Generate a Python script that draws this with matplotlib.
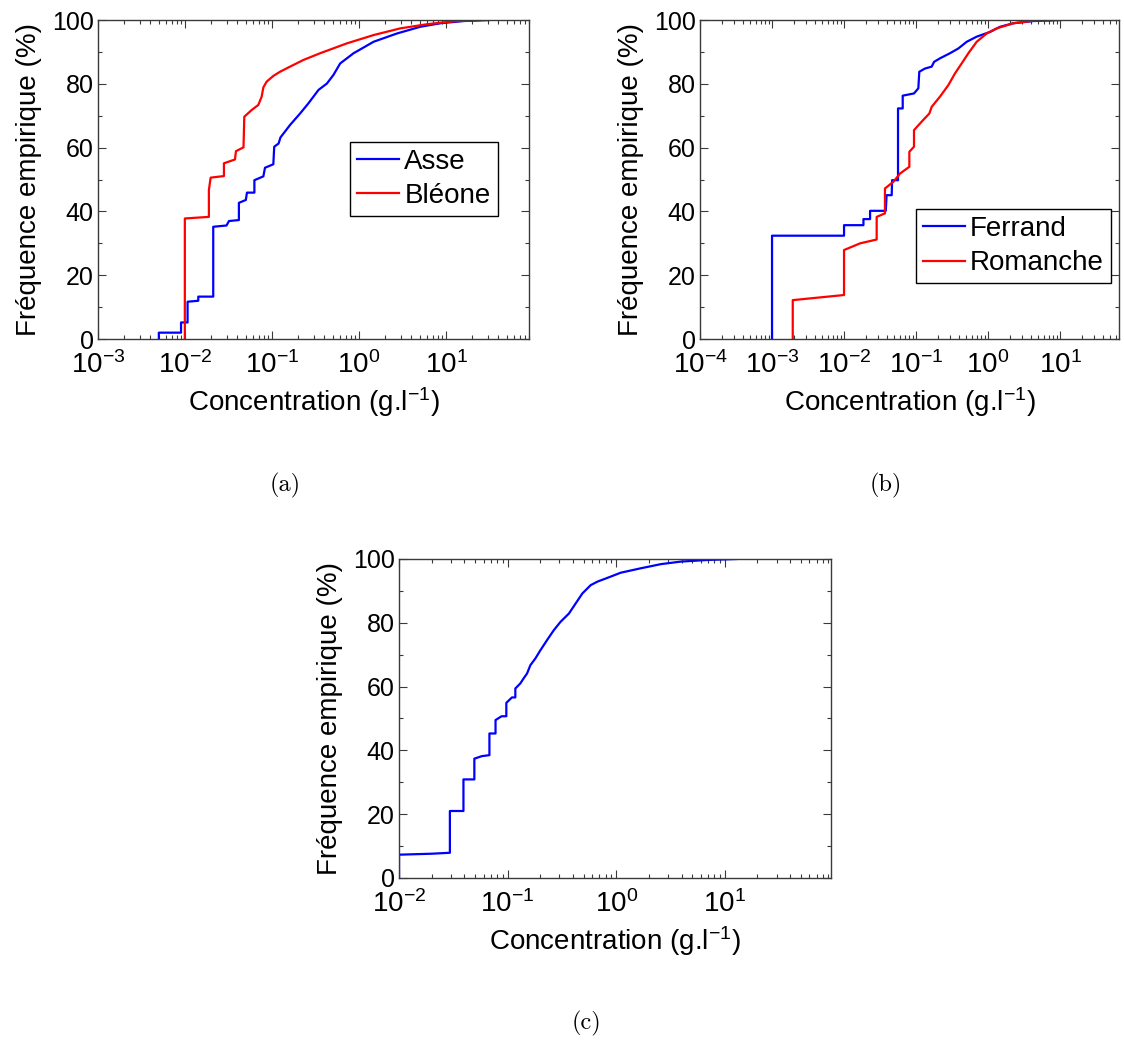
# -*- coding: utf-8 -*-

import matplotlib
matplotlib.use("Agg")
import matplotlib.pyplot as plt
from matplotlib.ticker import LogLocator, MultipleLocator, NullFormatter

plt.rcParams["font.family"] = ["Liberation Sans", "DejaVu Sans"]
plt.rcParams["font.size"] = 18
plt.rcParams["axes.unicode_minus"] = False

# ------------------------------------------------------------
# empirical CDF curves read off the picture (concentration g/l, frequency %)
asse_conc = [0.005, 0.005, 0.009, 0.009, 0.0107, 0.0107, 0.0142, 0.0142, 0.0211, 0.0211,
             0.030, 0.032, 0.0416, 0.0416, 0.050, 0.0515, 0.0627, 0.0627, 0.0795, 0.083,
             0.1035, 0.106, 0.119, 0.125, 0.161, 0.210, 0.262, 0.342, 0.427, 0.508,
             0.607, 0.865, 1.47, 2.73, 5.06, 8.6, 16.0, 31.0]
asse_freq = [0, 2.0, 2.0, 5.2, 5.2, 11.7, 12.0, 13.3, 13.3, 35.2,
             35.6, 37.0, 37.3, 42.7, 43.6, 45.9, 45.9, 49.8, 51.0, 53.7,
             54.8, 60.3, 61.3, 63.2, 67.1, 70.7, 73.9, 78.1, 80.1, 82.8,
             86.4, 89.6, 93.2, 95.8, 97.9, 99.0, 99.7, 100]

bleone_conc = [0.00995, 0.00995, 0.0188, 0.0188, 0.0197, 0.028, 0.028, 0.0375, 0.0385, 0.047,
               0.048, 0.0583, 0.0696, 0.076, 0.0795, 0.0868, 0.1036, 0.1236, 0.161, 0.2296,
               0.357, 0.725, 1.47, 2.98, 6.04, 12.2, 24.8]
bleone_freq = [0, 37.8, 38.3, 46.7, 50.6, 51.1, 55.1, 56.3, 58.9, 60.1,
               69.7, 71.8, 73.4, 76.0, 78.9, 80.7, 82.5, 83.8, 85.4, 87.5,
               89.6, 92.7, 95.3, 97.4, 98.7, 99.6, 100]

ferrand_conc = [0.001, 0.001, 0.01, 0.01, 0.0186, 0.0186, 0.023, 0.023, 0.038, 0.039,
                0.0459, 0.0465, 0.0562, 0.0562, 0.0653, 0.0653, 0.0937, 0.1076, 0.111, 0.133,
                0.165, 0.178, 0.215, 0.296, 0.387, 0.506, 0.696, 1.07, 1.47, 2.25,
                4.26, 10.0]
ferrand_freq = [0, 32.4, 32.4, 35.7, 35.7, 37.6, 37.6, 40.2, 40.2, 45.1,
                45.1, 49.8, 49.8, 72.3, 72.3, 76.3, 77.0, 78.6, 83.8, 84.8,
                85.4, 86.9, 88.0, 89.6, 91.1, 93.2, 94.8, 96.3, 97.9, 99.0,
                99.7, 100]

romanche_conc = [0.00194, 0.00194, 0.01, 0.01, 0.0167, 0.0284, 0.0284, 0.037, 0.037, 0.0484,
                 0.06, 0.0807, 0.0807, 0.0937, 0.0937, 0.126, 0.153, 0.165, 0.215, 0.281,
                 0.348, 0.43, 0.533, 0.696, 0.957, 1.32, 2.25, 4.26, 8.07]
romanche_freq = [0, 12.2, 13.8, 27.9, 30.0, 31.2, 38.3, 39.4, 47.2, 49.3,
                 51.9, 54.0, 58.7, 60.3, 65.5, 68.7, 70.7, 72.8, 76.0, 79.6,
                 83.3, 86.4, 89.6, 93.2, 95.8, 97.4, 99.0, 99.8, 100]

total_conc = [0.01, 0.01, 0.0199, 0.0294, 0.0294, 0.0392, 0.0392, 0.0494, 0.0494, 0.058,
              0.068, 0.068, 0.0774, 0.0774, 0.088, 0.0973, 0.0973, 0.1096, 0.1178, 0.1178,
              0.131, 0.1406, 0.151, 0.162, 0.180, 0.2005, 0.231, 0.2665, 0.307, 0.367,
              0.424, 0.488, 0.582, 0.671, 0.893, 1.10, 1.69, 2.59, 3.97, 7.01,
              12.8]
total_freq = [0, 7.3, 7.6, 7.9, 21.0, 21.0, 30.9, 30.9, 37.4, 38.2,
              38.5, 45.3, 45.3, 49.5, 50.7, 50.7, 54.9, 56.6, 56.6, 59.4,
              61.0, 62.6, 64.1, 66.7, 68.8, 71.4, 74.6, 77.7, 80.3, 82.9,
              86.1, 89.2, 91.8, 92.9, 94.5, 95.7, 97.1, 98.4, 99.2, 99.7,
              100]

XLABEL = r"Concentration (g.l$\mathregular{^{-1}}$)"
YLABEL = u"Fréquence empirique (%)"


# ------------------------------------------------------------
def setup_ax(ax, xmin, xmax):
    ax.set_xscale("log")
    ax.set_xlim(xmin, xmax)
    ax.set_ylim(0, 100)
    ax.xaxis.set_major_locator(LogLocator(base=10, numticks=20))
    ax.xaxis.set_minor_locator(LogLocator(base=10, subs=range(2, 10), numticks=20))
    ax.xaxis.set_minor_formatter(NullFormatter())
    ax.yaxis.set_major_locator(MultipleLocator(20))
    ax.yaxis.set_minor_locator(MultipleLocator(10))
    ax.tick_params(which="both", direction="in", top=True, right=True,
                   colors="#3a3a3a", labelcolor="black", width=0.8)
    ax.tick_params(which="major", length=6)
    ax.tick_params(which="minor", length=3)
    ax.tick_params(axis="x", which="major", labelsize=20, pad=9)
    ax.tick_params(axis="y", which="major", labelsize=18, pad=3)
    for s in ax.spines.values():
        s.set_color("#3a3a3a")
        s.set_linewidth(1.0)
    ax.set_xlabel(XLABEL, fontsize=20, labelpad=4)
    ax.set_ylabel(YLABEL, fontsize=20, labelpad=7)


def add_legend(ax, x, y):
    leg = ax.legend(loc="upper left", bbox_to_anchor=(x, y), borderaxespad=0,
                    fancybox=False, framealpha=1, edgecolor="black",
                    handlelength=1.5, handletextpad=0.2, labelspacing=0.3,
                    borderpad=0.25, fontsize=20)
    leg.get_frame().set_linewidth(1.0)


fig = plt.figure(figsize=(11.24, 10.4), dpi=100)

# (a)
ax_a = fig.add_axes([0.0872, 0.674, 0.3835, 0.3067])
ax_a.plot(asse_conc, asse_freq, color="b", lw=1.6, label="Asse")
ax_a.plot(bleone_conc, bleone_freq, color="r", lw=1.6, label=u"Bléone")
setup_ax(ax_a, 1e-3, 90)
add_legend(ax_a, 0.585, 0.618)

# (b)
ax_b = fig.add_axes([0.6228, 0.674, 0.3728, 0.3067])
ax_b.plot(ferrand_conc, ferrand_freq, color="b", lw=1.6, label="Ferrand")
ax_b.plot(romanche_conc, romanche_freq, color="r", lw=1.6, label="Romanche")
setup_ax(ax_b, 1e-4, 66)
add_legend(ax_b, 0.5155, 0.4075)

# (c)
ax_c = fig.add_axes([0.355, 0.1558, 0.3843, 0.3067])
ax_c.plot(total_conc, total_freq, color="b", lw=1.6)
setup_ax(ax_c, 1e-2, 95)

# captions
fig.text(285 / 1124, 1 - 485 / 1040, "(a)", family="cmr10", fontsize=17.5, ha="center", va="center")
fig.text(886 / 1124, 1 - 485 / 1040, "(b)", family="cmr10", fontsize=17.5, ha="center", va="center")
fig.text(586 / 1124, 1 - 1023 / 1040, "(c)", family="cmr10", fontsize=17.5, ha="center", va="center")

fig.savefig("out.png", dpi=100)
